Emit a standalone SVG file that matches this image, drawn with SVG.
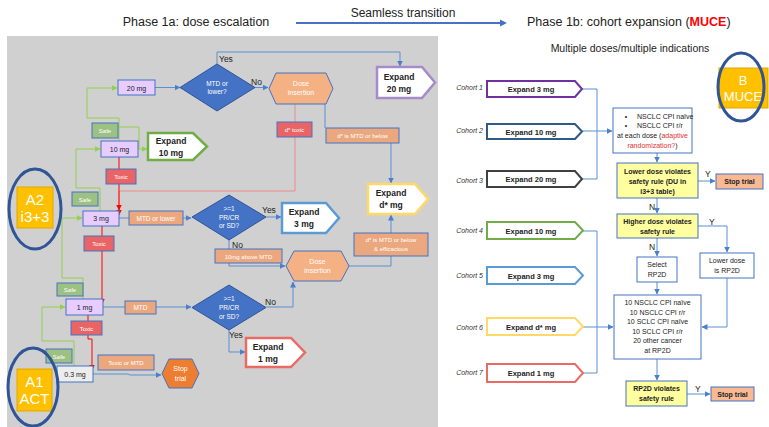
<svg xmlns="http://www.w3.org/2000/svg" width="769" height="427" viewBox="0 0 769 427">
<defs>
<marker id="ab" markerWidth="6" markerHeight="6" refX="5.5" refY="3" orient="auto" markerUnits="userSpaceOnUse"><path d="M0,0 L6,3 L0,6 Z" fill="#4A7FCB"/></marker>
<marker id="ag" markerWidth="6" markerHeight="6" refX="5.5" refY="3" orient="auto" markerUnits="userSpaceOnUse"><path d="M0,0 L6,3 L0,6 Z" fill="#92D050"/></marker>
<marker id="ar" markerWidth="6" markerHeight="6" refX="5.5" refY="3" orient="auto" markerUnits="userSpaceOnUse"><path d="M0,0 L6,3 L0,6 Z" fill="#FF0000"/></marker>
</defs>
<style>
text{font-family:"Liberation Sans",Arial,sans-serif;}
.w{fill:#fff;text-anchor:middle;font-size:6px}
.w65{font-size:6.5px}
.w7{font-size:7px}
.w14{font-size:15px}
.w13{font-size:13px}
.d{fill:#222;text-anchor:middle;font-size:7px}
.dose{fill:#E6CCFF;stroke:#4472C4;stroke-width:1}
.safe{fill:#9DC183;stroke:#4472C4;stroke-width:1}
.tox{fill:#E96565;stroke:#4472C4;stroke-width:1}
.org{fill:#EBA87E;stroke:#4472C4;stroke-width:1}
.dia{fill:#4472C4;stroke:#2F5597;stroke-width:1}
.hex{fill:#F4B183;stroke:#4472C4;stroke-width:1}
.exp{fill:#fff;stroke-width:2.5}
.cexp{fill:#fff;stroke-width:2}
.wb{fill:#fff;stroke:#4472C4;stroke-width:1}
.yb{fill:#FFFF9F;stroke:#4472C4;stroke-width:1}
.sb{fill:#F8B993;stroke:#4472C4;stroke-width:1}
.eb{font-weight:bold;font-size:8.5px}
.cb{font-weight:bold;font-size:7.5px}
.coh{font-style:italic;font-size:7px;fill:#333;text-anchor:end}
.rt{font-size:7px;fill:#222;text-anchor:middle}
.rtb{font-size:7px;fill:#222;text-anchor:middle;font-weight:bold}
.lbl{font-size:8.5px;fill:#222}
.cb1{fill:none;stroke:#5B8FD0;stroke-width:1}
.cg{fill:none;stroke:#92D050;stroke-width:1}
.cr{fill:none;stroke:#FF0000;stroke-width:1}
.cp{fill:none;stroke:#EF8A8A;stroke-width:1}
.ell{fill:none;stroke:#2F5597;stroke-width:3}
.big{fill:#FFC000;stroke:#E0A800;stroke-width:1}
</style>

<rect x="7" y="36" width="431" height="391" fill="#D0D0D0"/>

<g id="header">
<text x="196" y="26" font-size="12.5" fill="#222" text-anchor="middle">Phase 1a: dose escalation</text>
<text x="403" y="17" font-size="12" fill="#222" text-anchor="middle">Seamless transition</text>
<text x="527" y="26" font-size="12.5" fill="#222">Phase 1b: cohort expansion (<tspan fill="#FF0000" font-weight="bold">MUCE</tspan>)</text>
<text x="630" y="52" font-size="10.5" fill="#222" text-anchor="middle">Multiple doses/multiple indications</text>
</g>

<g id="connectors">
<path d="M296,23 H505" fill="none" stroke="#4472C4" stroke-width="2"/>
<path d="M500,19.5 L507,23 L500,26.5 Z" fill="#4472C4"/>
<path class="cb1" d="M155,87.5 H180" marker-end="url(#ab)"/>
<path class="cb1" d="M217,64 V52 H400 V66" marker-end="url(#ab)"/>
<path class="cb1" d="M255,87.5 H268" marker-end="url(#ab)"/>
<path class="cp" d="M295,104 V191 H119 V215" marker-end="url(#ar)"/>
<path class="cb1" d="M325,104 V128"/>
<path class="cb1" d="M391,143 V183" marker-end="url(#ab)"/>
<path class="cr" d="M119,157 V210" marker-end="url(#ar)"/>
<path class="cb1" d="M119,218 H191" marker-end="url(#ab)"/>
<path class="cb1" d="M266,217 H281" marker-end="url(#ab)"/>
<path class="cb1" d="M229,240 V266 H285" marker-end="url(#ab)"/>
<path class="cb1" d="M349,266 H391 V215" marker-end="url(#ab)"/>
<path class="cb1" d="M103,307 H191" marker-end="url(#ab)"/>
<path class="cb1" d="M266,307 H293 V282" marker-end="url(#ab)"/>
<path class="cb1" d="M229,330 V352 H245" marker-end="url(#ab)"/>
<path class="cr" d="M102,226 V304" marker-end="url(#ar)"/>
<path class="cr" d="M88,315 V339 H92 V370" marker-end="url(#ar)"/>
<path class="cb1" d="M93,374 H128 L130,375 H161" marker-end="url(#ab)"/>
<path class="cg" d="M119,140 V118 H87 V88 H117" marker-end="url(#ag)"/>
<path class="cg" d="M118,127 H139 V149 H147" marker-end="url(#ag)"/>
<path class="cg" d="M100,211 V188 H76 V149 H100" marker-end="url(#ag)"/>
<path class="cg" d="M83,299 V278 H62 V218 H82" marker-end="url(#ag)"/>
<path class="cg" d="M74,366 V341 H42 V307 H65" marker-end="url(#ag)"/>

<path class="cb1" d="M582,89 H597 V179 H582"/>
<path class="cb1" d="M582,131 H612" marker-end="url(#ab)"/>
<path class="cb1" d="M657,153 V162" marker-end="url(#ab)"/>
<path class="cb1" d="M698,181 H715" marker-end="url(#ab)"/>
<path class="cb1" d="M657,198 V213" marker-end="url(#ab)"/>
<path class="cb1" d="M698,226 H727 V252" marker-end="url(#ab)"/>
<path class="cb1" d="M657,238 V256" marker-end="url(#ab)"/>
<path class="cb1" d="M657,282 V294" marker-end="url(#ab)"/>
<path class="cb1" d="M727,278 V327 H702" marker-end="url(#ab)"/>
<path class="cb1" d="M583,231 H597 V373 H583"/>
<path class="cb1" d="M583,327 H613" marker-end="url(#ab)"/>
<path class="cb1" d="M657,359 V380" marker-end="url(#ab)"/>
<path class="cb1" d="M687,394 H710" marker-end="url(#ab)"/>
</g>

<g id="edge-labels">
<text class="lbl" x="219" y="62">Yes</text>
<text class="lbl" x="251" y="85">No</text>
<text class="lbl" x="262" y="213">Yes</text>
<text class="lbl" x="232" y="248">No</text>
<text class="lbl" x="265" y="305">No</text>
<text class="lbl" x="229" y="338">Yes</text>
<text class="lbl" x="705" y="177">Y</text>
<text class="lbl" x="649" y="210">N</text>
<text class="lbl" x="709" y="225">Y</text>
<text class="lbl" x="649" y="250">N</text>
<text class="lbl" x="695" y="392">Y</text>
</g>

<g id="d20"><rect class="dose" x="118" y="80" width="37" height="15"/><text class="d" x="136.5" y="90.5">20 mg</text></g>
<g id="q1"><polygon class="dia" points="180,87.5 217,64 255,87.5 217,111"/><text class="w w65" x="217" y="86">MTD or</text><text class="w w65" x="217" y="94">lower?</text></g>
<g id="ins1"><polygon class="hex" points="269,88.5 276,73 326,73 333,88.5 326,104 276,104"/><text class="w w7" x="301" y="86">Dose</text><text class="w w7" x="301" y="95">insertion</text></g>
<g id="e20"><path class="exp" stroke="#A58BC9" d="M377,67 H422 L435,82.5 L422,98 H377 Z"/><text class="d eb" x="399" y="80">Expand</text><text class="d eb" x="399" y="92">20 mg</text></g>
<g id="dtox"><rect class="tox" x="277" y="122" width="35" height="15"/><text class="w" x="294.5" y="132">d* toxic</text></g>
<g id="dmtd"><rect class="org" x="326" y="128" width="73" height="15"/><text class="w" x="362.5" y="138">d* is MTD or below</text></g>
<g id="safe1"><rect class="safe" x="92" y="123" width="26" height="15"/><text class="w" x="105" y="133">Safe</text></g>
<g id="d10"><rect class="dose" x="101" y="141" width="37" height="16"/><text class="d" x="119.5" y="151.5">10 mg</text></g>
<g id="e10"><path class="exp" stroke="#70AD47" d="M148,133 H193 L207,146.5 L193,160 H148 Z"/><text class="d eb" x="171" y="144">Expand</text><text class="d eb" x="171" y="156">10 mg</text></g>
<g id="tox1"><rect class="tox" x="106" y="169" width="30" height="15"/><text class="w" x="121" y="179">Toxic</text></g>
<g id="a2"><rect class="big" x="17" y="187" width="36" height="41"/><text class="w w14" x="35" y="205">A2</text><text class="w w14" x="35" y="222">i3+3</text><ellipse class="ell" cx="35" cy="209" rx="26" ry="40"/></g>
<g id="safe2"><rect class="safe" x="72" y="192" width="26" height="14"/><text class="w" x="85" y="201.5">Safe</text></g>
<g id="d3"><rect class="dose" x="83" y="211" width="36" height="15"/><text class="d" x="101" y="221">3 mg</text></g>
<g id="mtdl"><rect class="org" x="129" y="211" width="54" height="14"/><text class="w w65" x="156" y="220.5">MTD or lower</text></g>
<g id="q2"><polygon class="dia" points="192,217 229,195 266,217 229,240"/><text class="w w65" x="229" y="211">&gt;=1</text><text class="w w65" x="229" y="219.5">PR/CR</text><text class="w w65" x="229" y="228">or SD?</text></g>
<g id="e3"><path class="exp" stroke="#5B9BD5" d="M282,203 H326 L339,218 L326,233 H282 Z"/><text class="d eb" x="304" y="215">Expand</text><text class="d eb" x="304" y="227">3 mg</text></g>
<g id="edst"><path class="exp" stroke="#FFD966" d="M368,184 H415 L428,199 L415,214 H368 Z"/><text class="d eb" x="391" y="196">Expand</text><text class="d eb" x="391" y="208">d* mg</text></g>
<g id="deff"><rect class="org" x="354" y="233" width="74" height="23"/><text class="w" x="391" y="242">d* is MTD or below</text><text class="w" x="391" y="251">&amp; efficacious</text></g>
<g id="tox2"><rect class="tox" x="84" y="236" width="30" height="15"/><text class="w" x="99" y="246">Toxic</text></g>
<g id="abv"><rect class="org" x="215" y="249" width="67" height="14"/><text class="w" x="248.5" y="258.5">10mg above MTD</text></g>
<g id="ins2"><polygon class="hex" points="286,266 294,251 341,251 349,266 341,281 294,281"/><text class="w w7" x="317.5" y="264">Dose</text><text class="w w7" x="317.5" y="273">insertion</text></g>
<g id="safe3"><rect class="safe" x="57" y="283" width="26" height="13"/><text class="w" x="70" y="292">Safe</text></g>
<g id="d1"><rect class="dose" x="66" y="299" width="37" height="16"/><text class="d" x="84.5" y="309.5">1 mg</text></g>
<g id="mtd"><rect class="org" x="125" y="301" width="31" height="13"/><text class="w w65" x="140.5" y="310">MTD</text></g>
<g id="q3"><polygon class="dia" points="192,307.5 229,285 266,307.5 229,330"/><text class="w w65" x="229" y="301">&gt;=1</text><text class="w w65" x="229" y="310">PR/CR</text><text class="w w65" x="229" y="318.5">or SD?</text></g>
<g id="e1"><path class="exp" stroke="#EA6B66" d="M246,338 H291 L305,352.5 L291,367 H246 Z"/><text class="d eb" x="268" y="350">Expand</text><text class="d eb" x="268" y="362">1 mg</text></g>
<g id="tox3"><rect class="tox" x="71" y="321" width="31" height="14"/><text class="w" x="86.5" y="330.5">Toxic</text></g>
<g id="safe4"><rect class="safe" x="46" y="349" width="26" height="14"/><text class="w" x="59" y="358.5">Safe</text></g>
<g id="tmtd"><rect class="org" x="98" y="355" width="56" height="15"/><text class="w" x="126" y="365">Toxic or MTD</text></g>
<g id="d03"><rect fill="#EDEDED" stroke="#4472C4" stroke-width="1" x="57" y="366" width="36" height="16"/><text class="d" x="75" y="376.5">0.3 mg</text></g>
<g id="stop1"><polygon fill="#ED7D31" stroke="#4472C4" stroke-width="1" points="162,373.5 169,359 192,359 199,373.5 192,388 169,388"/><text class="w w7" x="180.5" y="371">Stop</text><text class="w w7" x="180.5" y="380.5">trial</text></g>
<g id="a1"><rect class="big" x="17" y="369" width="35" height="42"/><text class="w w14" x="34.5" y="387">A1</text><text class="w w14" x="34.5" y="404">ACT</text><ellipse class="ell" cx="33" cy="387" rx="25" ry="39"/></g>

<g id="b"><rect class="big" x="719" y="68" width="49" height="40"/><text class="w w13" x="743" y="85">B</text><text class="w w13" x="743" y="101">MUCE</text><ellipse class="ell" cx="741" cy="87" rx="23" ry="34"/></g>

<g id="c1"><text class="coh" x="483" y="90">Cohort 1</text><path class="cexp" stroke="#7030A0" d="M487,81 H575 L582,89 L575,97 H487 Z"/><text class="d cb" x="531" y="92">Expand  3 mg</text></g>
<g id="c2"><text class="coh" x="483" y="133">Cohort 2</text><path class="cexp" stroke="#2E5A88" d="M487,124 H575 L582,131.5 L575,139 H487 Z"/><text class="d cb" x="531" y="134.5">Expand  10 mg</text></g>
<g id="c3"><text class="coh" x="483" y="183">Cohort 3</text><path class="cexp" stroke="#404040" d="M487,171 H575 L582,179 L575,187 H487 Z"/><text class="d cb" x="531" y="182">Expand  20 mg</text></g>
<g id="c4"><text class="coh" x="483" y="233">Cohort 4</text><path class="cexp" stroke="#70AD47" d="M487,222 H575 L583,230.5 L575,239 H487 Z"/><text class="d cb" x="531" y="233.5">Expand  10 mg</text></g>
<g id="c5"><text class="coh" x="483" y="278">Cohort 5</text><path class="cexp" stroke="#5B9BD5" d="M487,267 H575 L583,275.5 L575,284 H487 Z"/><text class="d cb" x="531" y="278.5">Expand 3 mg</text></g>
<g id="c6"><text class="coh" x="483" y="330">Cohort 6</text><path class="cexp" stroke="#FFD966" d="M487,318 H575 L583,326.5 L575,335 H487 Z"/><text class="d cb" x="531" y="329.5">Expand d* mg</text></g>
<g id="c7"><text class="coh" x="483" y="375">Cohort 7</text><path class="cexp" stroke="#EA6B66" d="M487,364 H575 L583,373 L575,382 H487 Z"/><text class="d cb" x="531" y="376">Expand 1 mg</text></g>

<g id="nsclc"><rect class="wb" x="613" y="108" width="79" height="45"/>
<text class="rt" x="626" y="119">•</text><text class="rt" x="637" y="119" text-anchor="start" style="text-anchor:start">NSCLC CPI naïve</text>
<text class="rt" x="626" y="128">•</text><text class="rt" x="637" y="128" style="text-anchor:start">NSCLC CPI r/r</text>
<text class="rt" x="652.5" y="138">at each dose (<tspan fill="#E03030">adaptive</tspan></text>
<text class="rt" x="652.5" y="148"><tspan fill="#E03030">randomization?</tspan>)</text></g>
<g id="lower"><rect class="yb" x="617" y="163" width="81" height="35"/><text class="rtb" x="657.5" y="174">Lower dose violates</text><text class="rtb" x="657.5" y="184">safety rule (DU in</text><text class="rtb" x="657.5" y="194">i3+3 table)</text></g>
<g id="stop2"><rect class="sb" x="716" y="174" width="47" height="15"/><text class="rtb" x="739.5" y="184">Stop trial</text></g>
<g id="higher"><rect class="yb" x="617" y="214" width="81" height="24"/><text class="rtb" x="657.5" y="224">Higher dose violates</text><text class="rtb" x="657.5" y="234">safety rule</text></g>
<g id="lrp2d"><rect class="wb" x="700" y="253" width="54" height="25"/><text class="rt" x="727" y="263">Lower dose</text><text class="rt" x="727" y="273">is RP2D</text></g>
<g id="sel"><rect class="wb" x="637" y="257" width="40" height="25"/><text class="rt" x="657" y="267">Select</text><text class="rt" x="657" y="277">RP2D</text></g>
<g id="bigbox"><rect class="wb" x="614" y="295" width="87" height="64"/>
<text class="rt" x="657.5" y="305">10 NSCLC CPI naïve</text>
<text class="rt" x="657.5" y="314.5">10 NSCLC CPI r/r</text>
<text class="rt" x="657.5" y="324">10 SCLC CPI naïve</text>
<text class="rt" x="657.5" y="333.5">10 SCLC CPI r/r</text>
<text class="rt" x="657.5" y="343">20 other cancer</text>
<text class="rt" x="657.5" y="352.5">at RP2D</text></g>
<g id="rp2dv"><rect class="yb" x="626" y="381" width="61" height="25"/><text class="rtb" x="656.5" y="391">RP2D violates</text><text class="rtb" x="656.5" y="401">safety rule</text></g>
<g id="stop3"><rect class="sb" x="711" y="387" width="43" height="14"/><text class="rtb" x="732.5" y="396.5">Stop trial</text></g>
</svg>
